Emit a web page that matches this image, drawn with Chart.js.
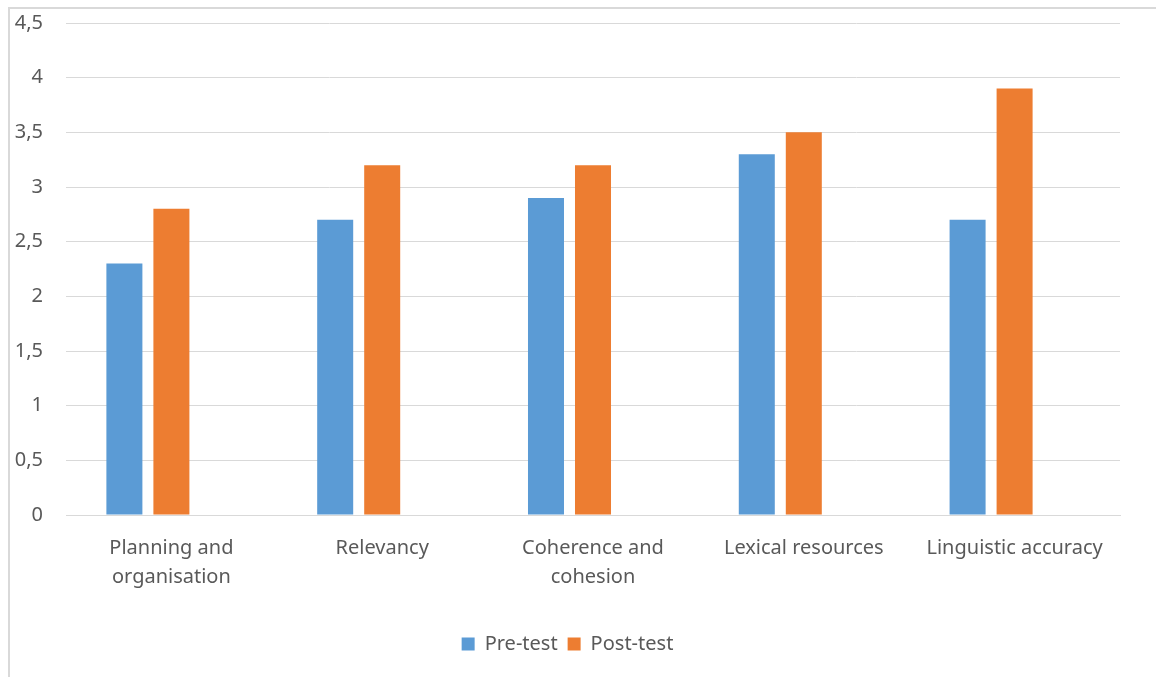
<!DOCTYPE html>
<html>
<head>
<meta charset="utf-8">
<script src="https://cdn.jsdelivr.net/npm/chart.js"></script>
<style>
  html, body { margin: 0; padding: 0; background: #fff; overflow: hidden; }
  #wrap { position: relative; width: 1156px; height: 677px; }
  #frame {
    position: absolute; left: 8px; top: 7px; width: 1200px; height: 720px;
    border-left: 2px solid #d9d9d9; border-top: 2px solid #d9d9d9;
  }
  #chart { position: absolute; left: 0; top: 0; }
</style>
</head>
<body>
<div id="wrap">
  <div id="frame"></div>
  <canvas id="chart" width="1156" height="677"></canvas>
</div>
<script>
// Данные диаграммы
const categories = [
  ['Planning and', 'organisation'],
  'Relevancy',
  ['Coherence and', 'cohesion'],
  'Lexical resources',
  'Linguistic accuracy'
];
const seriesNames = ['Pre-test', 'Post-test'];
const preTest = [2.3, 2.7, 2.9, 3.3, 2.7];
const postTest = [2.8, 3.2, 3.2, 3.5, 3.9];
// третья (пустая) серия в исходной диаграмме занимает место справа
const emptySeries = [null, null, null, null, null];
const yTicks = [0, 0.5, 1, 1.5, 2, 2.5, 3, 3.5, 4, 4.5];

const textColor = '#595959';
const gridColor = '#d9d9d9';
const fontFamily = '"Noto Sans", "Open Sans", sans-serif';

new Chart(document.getElementById('chart'), {
  type: 'bar',
  data: {
    labels: categories,
    datasets: [
      { label: seriesNames[0], data: preTest, backgroundColor: '#5b9bd5' },
      { label: seriesNames[1], data: postTest, backgroundColor: '#ed7d31' },
      { label: '', data: emptySeries, backgroundColor: 'rgba(0,0,0,0)' }
    ]
  },
  options: {
    responsive: false,
    animation: false,
    categoryPercentage: 0.669,
    barPercentage: 0.766,
    layout: { padding: { left: 15, right: 36, top: 23, bottom: 13 } },
    plugins: {
      tooltip: { enabled: false },
      legend: {
        position: 'bottom',
        labels: {
          color: textColor,
          font: { family: fontFamily, size: 20 },
          boxWidth: 13,
          boxHeight: 13,
          padding: 10,
          filter: (item) => item.text !== ''
        }
      }
    },
    scales: {
      x: {
        grid: { display: false, drawTicks: false },
        border: { color: gridColor, width: 1 },
        ticks: {
          color: textColor,
          font: { family: fontFamily, size: 20, lineHeight: 1.45 },
          padding: 19,
          maxRotation: 0,
          autoSkip: false
        },
        afterFit: (scale) => { scale.height = 109; }
      },
      y: {
        min: 0,
        max: 4.5,
        afterBuildTicks: (scale) => { scale.ticks = yTicks.map(v => ({ value: v })); },
        grid: { color: gridColor, lineWidth: 1, drawTicks: false },
        border: { display: false },
        ticks: {
          color: textColor,
          font: { family: fontFamily, size: 20 },
          padding: 23,
          callback: (v) => String(v).replace('.', ',')
        },
        afterFit: (scale) => { scale.width = 51; scale.paddingTop = 0; }
      }
    }
  }
});
</script>
</body>
</html>
